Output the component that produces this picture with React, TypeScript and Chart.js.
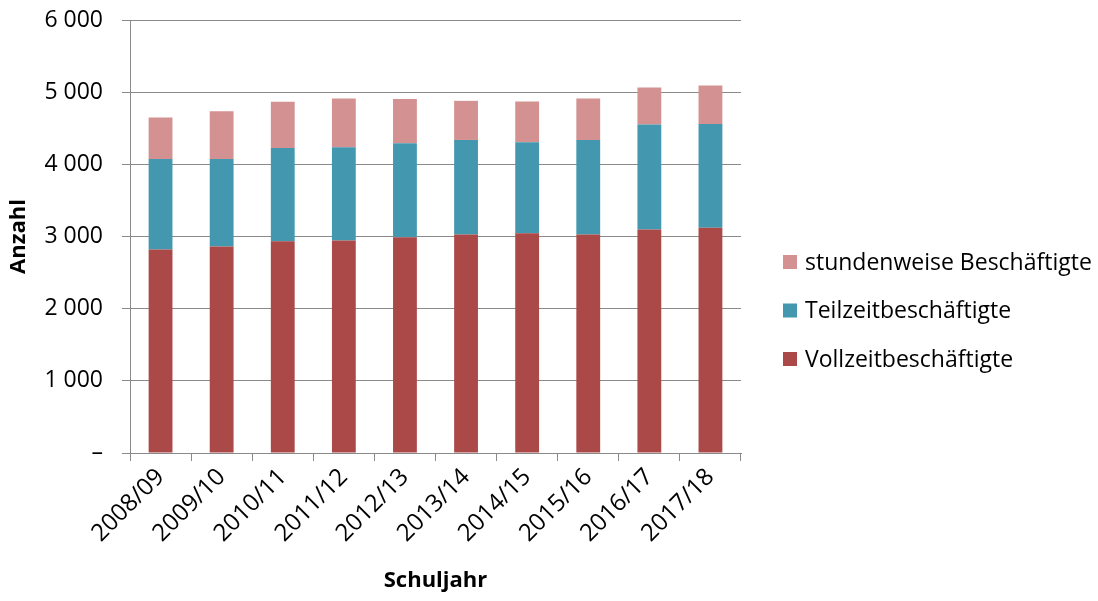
import React, { useEffect, useRef } from 'react';
import { Chart, registerables } from 'chart.js';

Chart.register(...registerables);

const categories = ['2008/09', '2009/10', '2010/11', '2011/12', '2012/13', '2013/14', '2014/15', '2015/16', '2016/17', '2017/18'];
const vollzeit = [2819, 2861, 2935, 2944, 2991, 3028, 3046, 3028, 3097, 3120];
const teilzeit = [1255, 1213, 1292, 1292, 1301, 1310, 1260, 1310, 1454, 1440];
const stundenweise = [575, 662, 639, 676, 615, 542, 564, 574, 514, 533];
const yTicks = [0, 1000, 2000, 3000, 4000, 5000, 6000];

const seriesLabels = ['Vollzeitbeschäftigte', 'Teilzeitbeschäftigte', 'stundenweise Beschäftigte'];
const seriesColors = ['#AA4947', '#4398AF', '#D49191'];

const FONT = '"Open Sans", "DejaVu Sans", sans-serif';

const formatTick = (v: number) => (v === 0 ? '–' : String(v).replace(/\B(?=(\d{3})+(?!\d))/g, ' '));

const sideLegend = {
  id: 'sideLegend',
  afterDraw(chart: any, _args: any, opts: any) {
    const ctx = chart.ctx;
    const ds = chart.data.datasets;
    const n = ds.length;
    ctx.save();
    ctx.font = `${opts.fontSize}px ${FONT}`;
    ctx.textBaseline = 'middle';
    ctx.textAlign = 'left';
    for (let i = 0; i < n; i++) {
      const d = ds[n - 1 - i];
      const y = opts.top + i * opts.gap;
      ctx.fillStyle = d.backgroundColor;
      ctx.fillRect(opts.x, y - opts.box / 2, opts.box, opts.box);
      ctx.fillStyle = '#000';
      ctx.fillText(d.label, opts.x + opts.box + 8, y + 1);
    }
    ctx.restore();
  },
};

export default function App() {
  const ref = useRef<HTMLCanvasElement | null>(null);

  useEffect(() => {
    if (!ref.current) return;
    const gridColor = '#8a8a8a';
    const chart = new Chart(ref.current, {
      type: 'bar',
      data: {
        labels: categories,
        datasets: [
          { label: seriesLabels[0], data: vollzeit, backgroundColor: seriesColors[0] },
          { label: seriesLabels[1], data: teilzeit, backgroundColor: seriesColors[1] },
          { label: seriesLabels[2], data: stundenweise, backgroundColor: seriesColors[2] },
        ],
      },
      plugins: [sideLegend],
      options: {
        responsive: false,
        animation: false,
        devicePixelRatio: 1,
        layout: { padding: { left: 0, top: 20, right: 357, bottom: 0 } },
        datasets: { bar: { barPercentage: 0.39, categoryPercentage: 1 } },
        plugins: {
          legend: { display: false },
          tooltip: { enabled: false },
          sideLegend: { x: 783, top: 262, gap: 48.5, box: 14, fontSize: 23 },
        } as any,
        scales: {
          x: {
            stacked: true,
            afterFit: (s: any) => { s.height = 148; },
            grid: { display: true, drawOnChartArea: false, drawTicks: true, tickLength: 8, color: gridColor, offset: true },
            border: { display: true, color: gridColor },
            ticks: { minRotation: 45, maxRotation: 45, color: '#000', font: { family: FONT, size: 24 }, padding: 2 },
            title: { display: true, text: 'Schuljahr', color: '#000', font: { family: FONT, size: 22, weight: 'bold' }, padding: { top: 0, bottom: 7 } },
          },
          y: {
            stacked: true,
            min: 0,
            max: 6000,
            afterFit: (s: any) => { s.width = 130; s.paddingTop = 12; s.paddingBottom = 12; },
            afterBuildTicks: (s: any) => { s.ticks = yTicks.map((v) => ({ value: v })); },
            grid: { color: gridColor, tickLength: 8, drawTicks: true },
            border: { display: true, color: gridColor },
            ticks: { color: '#000', font: { family: FONT, size: 23 }, padding: 19, callback: (v: any) => formatTick(Number(v)) },
            title: { display: true, text: 'Anzahl', color: '#000', font: { family: FONT, size: 22, weight: 'bold' }, padding: { top: 6, bottom: 0 } },
          },
        },
      },
    });
    return () => chart.destroy();
  }, []);

  return (
    <div style={{ position: 'fixed', left: 0, top: 0, width: 1098, height: 601, background: '#fff' }}>
      <canvas ref={ref} width={1098} height={601} style={{ display: 'block', width: 1098, height: 601 }} />
    </div>
  );
}
